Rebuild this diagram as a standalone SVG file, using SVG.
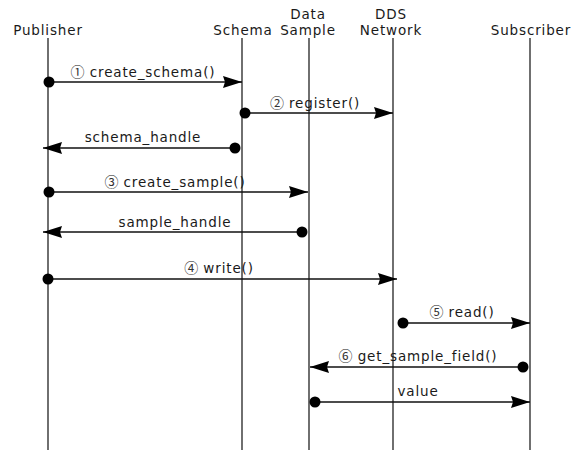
<svg xmlns="http://www.w3.org/2000/svg" width="573" height="450" viewBox="0 0 573 450">
  <style>
    .lbl { font-family: "DejaVu Sans", "Noto Sans", sans-serif; font-size: 13.5px; letter-spacing: 0.85px; fill: #1a1a1a; text-anchor: middle; }
    .num { font-family: "Noto Sans CJK SC", "DejaVu Sans", sans-serif; font-size: 14px; letter-spacing: 0; fill: #333; }
    .life { stroke: #222; stroke-width: 1.3; fill: none; }
    .msg { stroke: #111; stroke-width: 1.5; fill: none; marker-start: url(#dot); marker-end: url(#arrow); }
  </style>
  <defs>
    <marker id="arrow" viewBox="0 0 19 12" refX="19" refY="6" markerWidth="19" markerHeight="12" markerUnits="userSpaceOnUse" orient="auto">
      <path d="M0,0 L19,6 L0,12 L2,6 Z" fill="#000"/>
    </marker>
    <marker id="dot" viewBox="-6 -6 12 12" refX="0" refY="0" markerWidth="12" markerHeight="12" markerUnits="userSpaceOnUse" orient="auto">
      <circle cx="0" cy="0" r="5.5" fill="#000"/>
    </marker>
  </defs>
  <rect width="573" height="450" fill="#fff"/>

  <g id="publisher">
    <text class="lbl" x="48" y="35">Publisher</text>
    <line class="life" x1="48" y1="38" x2="48" y2="450"/>
  </g>
  <g id="schema">
    <text class="lbl" x="243" y="35">Schema</text>
    <line class="life" x1="242" y1="38" x2="242" y2="450"/>
  </g>
  <g id="data-sample">
    <text class="lbl" x="308" y="19">Data</text>
    <text class="lbl" x="308" y="35">Sample</text>
    <line class="life" x1="309" y1="38" x2="309" y2="450"/>
  </g>
  <g id="dds-network">
    <text class="lbl" x="391" y="19">DDS</text>
    <text class="lbl" x="391" y="35">Network</text>
    <line class="life" x1="393" y1="38" x2="393" y2="450"/>
  </g>
  <g id="subscriber">
    <text class="lbl" x="531" y="35">Subscriber</text>
    <line class="life" x1="530" y1="38" x2="530" y2="450"/>
  </g>

  <g id="connectors">
    <line class="msg" x1="49" y1="82" x2="242" y2="82"/>
    <text class="lbl" x="143" y="77"><tspan class="num">①</tspan> create_schema()</text>

    <line class="msg" x1="245" y1="113" x2="393" y2="113"/>
    <text class="lbl" x="315" y="108"><tspan class="num">②</tspan> register()</text>

    <line class="msg" x1="235" y1="148" x2="43" y2="148"/>
    <text class="lbl" x="143" y="142">schema_handle</text>

    <line class="msg" x1="49" y1="192" x2="308" y2="192"/>
    <text class="lbl" x="175" y="187"><tspan class="num">③</tspan> create_sample()</text>

    <line class="msg" x1="302" y1="232" x2="43" y2="232"/>
    <text class="lbl" x="175" y="227">sample_handle</text>

    <line class="msg" x1="48" y1="279" x2="397" y2="279"/>
    <text class="lbl" x="219" y="273"><tspan class="num">④</tspan> write()</text>

    <line class="msg" x1="403" y1="323" x2="530" y2="323"/>
    <text class="lbl" x="462" y="317"><tspan class="num">⑤</tspan> read()</text>

    <line class="msg" x1="523" y1="367" x2="310" y2="367"/>
    <text class="lbl" x="418" y="361"><tspan class="num">⑥</tspan> get_sample_field()</text>

    <line class="msg" x1="315" y1="402" x2="530" y2="402"/>
    <text class="lbl" x="418" y="396">value</text>
  </g>
</svg>
